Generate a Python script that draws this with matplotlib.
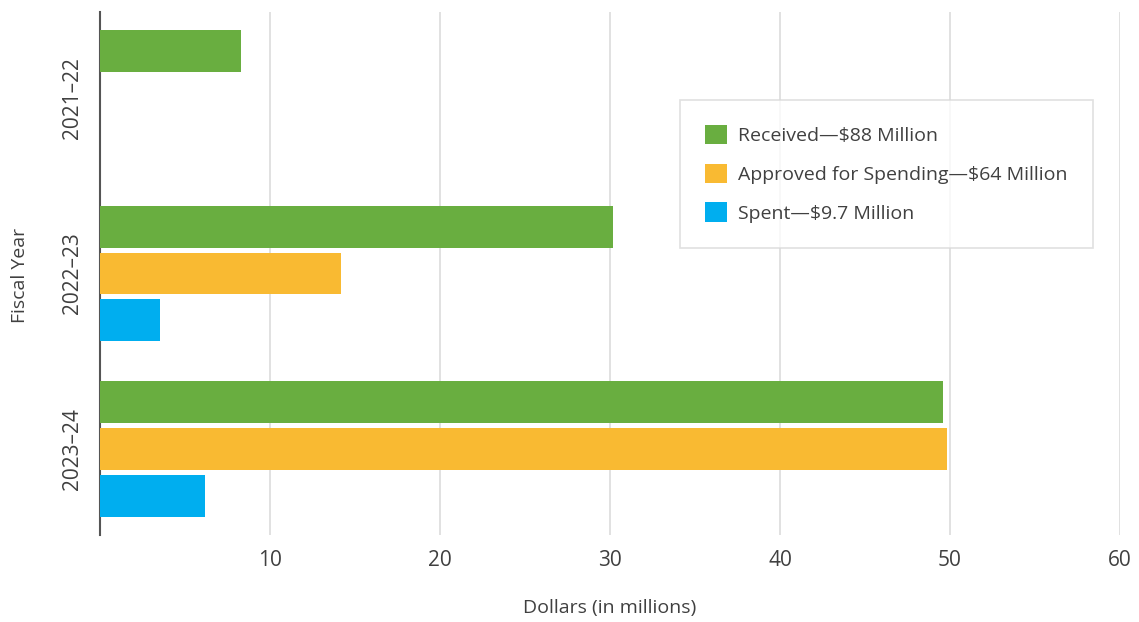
import numpy as np
import matplotlib.pyplot as plt

years = ["2021–22", "2022–23", "2023–24"]
received = [8.3, 30.2, 49.6]
approved = [0, 14.15, 49.85]
spent = [0, 3.5, 6.2]

series_labels = ["Received—$88 Million",
                 "Approved for Spending—$64 Million",
                 "Spent—$9.7 Million"]
colors = ["#69ae40", "#f9ba32", "#00aeef"]

plt.rcParams['font.family'] = ['Open Sans', 'DejaVu Sans']
text_color = "#404040"

fig = plt.figure(figsize=(11.39, 6.22), dpi=100)
ax = fig.add_axes([100 / 1139, 87 / 622, 1020 / 1139, 523 / 622])

y = np.arange(len(years))
h = 0.239
step = 0.267
for i, (vals, lab, col) in enumerate(zip([received, approved, spent], series_labels, colors)):
    ax.barh(y + (i - 1) * step, vals, height=h, color=col, label=lab, zorder=3)

ax.set_xlim(0, 60)
ax.set_ylim(2.49, -0.49)
ax.set_xticks([10, 20, 30, 40, 50, 60])
ax.set_yticks(y)
ax.set_yticklabels(years, rotation=90, va="center")
ax.grid(axis="x", color="#dcdcdc", linewidth=1.2, zorder=0)
ax.tick_params(length=0, labelsize=15, colors=text_color)
ax.tick_params(axis="x", pad=11)
ax.tick_params(axis="y", pad=12)
for s in ["top", "right", "bottom"]:
    ax.spines[s].set_visible(False)
ax.spines["left"].set_color("#555555")
ax.spines["left"].set_linewidth(1.5)

ax.set_xlabel("Dollars (in millions)", fontsize=14, color=text_color, labelpad=20)
fig.text(20 / 1139, 1 - 275 / 622, "Fiscal Year", rotation=90, fontsize=14,
         color=text_color, ha="center", va="center")

leg = ax.legend(loc="upper left", bbox_to_anchor=(680 / 1139, 1 - 100 / 622),
                bbox_transform=fig.transFigure, frameon=True, fancybox=False,
                fontsize=14, handlelength=1.13, handleheight=1.13, handletextpad=0.55,
                labelspacing=0.95, borderpad=1.3, borderaxespad=0)
leg.get_frame().set_edgecolor("#d9d9d9")
leg.get_frame().set_linewidth(1.2)
for t in leg.get_texts():
    t.set_color(text_color)

fig.savefig("out.png", dpi=100)
